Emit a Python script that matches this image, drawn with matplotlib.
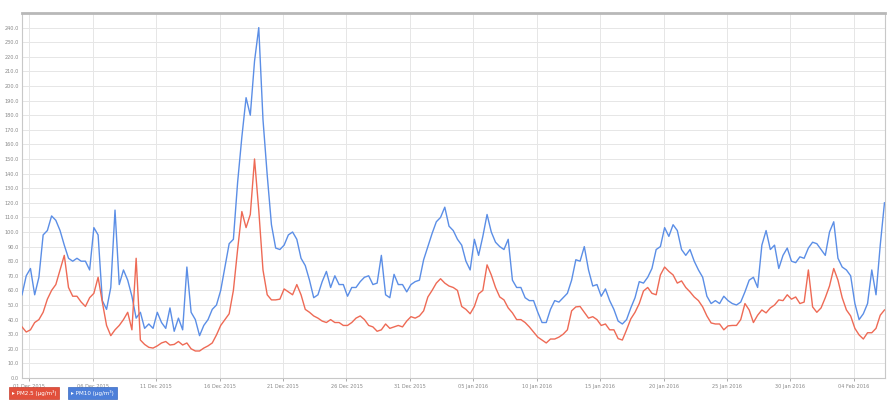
import matplotlib
matplotlib.use("Agg")
import matplotlib.pyplot as plt
import matplotlib.dates as mdates
import pandas as pd

# 8-hourly readings
start = "2015-11-30 10:00"
step = "8h"

pm25 = [35, 31.5, 33, 38, 40, 45, 54, 60, 64, 74, 84, 62, 56, 56, 52, 49, 55, 58, 69, 52,
        36, 29, 33, 36, 40, 45, 33, 82, 26, 23, 21, 20.5, 22, 24, 25, 22.6, 23, 25, 22.6, 24,
        20, 18.5, 18.5, 20.5, 22, 24, 29.5, 36, 40, 44, 60, 88, 114, 103, 112, 150, 115, 74, 57, 53.5,
        53.5, 54, 61, 59, 57, 64, 57, 47, 45, 42.5, 41, 39, 38, 40, 38, 38, 36, 36, 38, 41,
        42.5, 40, 36, 35, 32, 33, 37, 34, 35, 36, 35, 39, 42, 41, 42.5, 46, 55.5, 60, 65, 68,
        65, 63, 62, 60, 49, 47, 44, 49, 57.6, 60, 77.5, 70.6, 62, 55.5, 53.5, 48, 44.6, 40, 40, 38,
        35, 31.5, 28, 26, 24, 26.7, 26.7, 28, 30, 33, 46, 48.7, 49, 45, 41, 42, 40, 36, 37, 33,
        33, 27, 26, 33, 40.5, 45, 51, 59.6, 62, 58, 57, 70.6, 76, 73, 70.6, 65, 66.5, 62, 59, 55.5,
        53, 48.7, 42.5, 37.7, 37, 37, 33, 35.7, 36, 36, 40, 51, 46.6, 38, 43, 46.6, 44.6, 48, 50, 53.5,
        53, 57, 54, 55.5, 51, 52, 74, 48.7, 45, 48, 55, 63, 75, 67, 55, 46.6, 42.5, 34, 29.5, 26.7,
        31, 31, 34, 43, 46.6]

pm10 = [57, 70, 75, 57, 69, 98, 101, 111, 108, 101, 91, 82, 80, 82, 80, 80, 74, 103, 98, 53,
        47, 62, 115, 64, 74, 67, 56, 41, 45, 34, 37, 34, 45, 38, 34, 48, 32, 41, 33, 76,
        45, 40, 29, 36, 40, 47, 50, 60, 76, 92, 95, 134, 165, 192, 180, 217, 240, 177, 139, 105,
        89, 88, 91, 98, 100, 95, 82, 77, 67, 55, 57, 66, 73, 62, 70, 64, 64, 56, 62, 62,
        66, 69, 70, 64, 65, 84, 57, 55, 71, 64, 64, 59, 64, 66, 67, 81, 90, 99, 107, 110,
        117, 104, 101, 95, 91, 80, 74, 95, 84, 97, 112, 100, 93, 90, 88, 95, 67, 62, 62, 55,
        53, 53, 45, 38, 38, 47, 53, 52, 55, 58, 67, 81, 80, 90, 74, 63, 64, 56, 61, 53,
        47, 39, 37, 40, 48, 55, 66, 65, 69, 75, 88, 90, 103, 97, 105, 101, 88, 84, 88, 80,
        74, 69, 56, 51, 53, 51, 56, 53, 51, 50, 52, 59, 67, 69, 62, 91, 101, 88, 91, 75,
        84, 89, 80, 79, 83, 82, 89, 93, 92, 88, 84, 100, 107, 82, 76, 74, 70, 51, 40, 44,
        51, 74, 57, 91, 120]

series_labels = ["PM2.5 (µg/m³)", "PM10 (µg/m³)"]
y_ticks = list(range(0, 250, 10))
x_ticks = pd.date_range("2015-12-01", periods=14, freq="5D")

red = "#ee6a55"
blue = "#5b8ee6"

times = pd.date_range(start=start, periods=len(pm25), freq=step)

fig = plt.figure(figsize=(8.94, 4.03), dpi=100)
ax = fig.add_axes([22 / 894, 1 - 378 / 403, (885 - 22) / 894, (378 - 13) / 403])

ax.plot(times, pm10, color=blue, lw=1.0, zorder=3)
ax.plot(times, pm25, color=red, lw=1.0, zorder=4)

ax.set_ylim(0, 250)
ax.set_xlim(times[0], times[-1] + pd.Timedelta(hours=1))
ax.set_yticks(y_ticks)
ax.set_yticklabels([f"{v:.1f}" for v in y_ticks])

ax.set_xticks(x_ticks)
ax.xaxis.set_major_formatter(mdates.DateFormatter("%d %b %Y"))

ax.grid(True, color="#e6e6e6", lw=0.7, zorder=0)
ax.tick_params(axis="both", labelsize=3.6, colors="#888888", length=2, width=0.5, pad=2)
ax.tick_params(axis="y", length=0)

for side in ("left", "bottom", "right"):
    ax.spines[side].set_color("#c8c8c8")
    ax.spines[side].set_linewidth(0.8)
ax.spines["top"].set_color("#b8b8b8")
ax.spines["top"].set_linewidth(2.0)

# legend chips under the axis
fig.text(12 / 894, 1 - 393 / 403, "▸ " + series_labels[0], fontsize=4.1, color="white",
         va="center", ha="left",
         bbox=dict(boxstyle="square,pad=0.5", facecolor="#e2503c", edgecolor="#c84030", lw=0.5))
fig.text(71 / 894, 1 - 393 / 403, "▸ " + series_labels[1], fontsize=4.1, color="white",
         va="center", ha="left",
         bbox=dict(boxstyle="square,pad=0.5", facecolor="#4d7fd9", edgecolor="#3a6ac0", lw=0.5))

fig.savefig("out.png", dpi=100)
